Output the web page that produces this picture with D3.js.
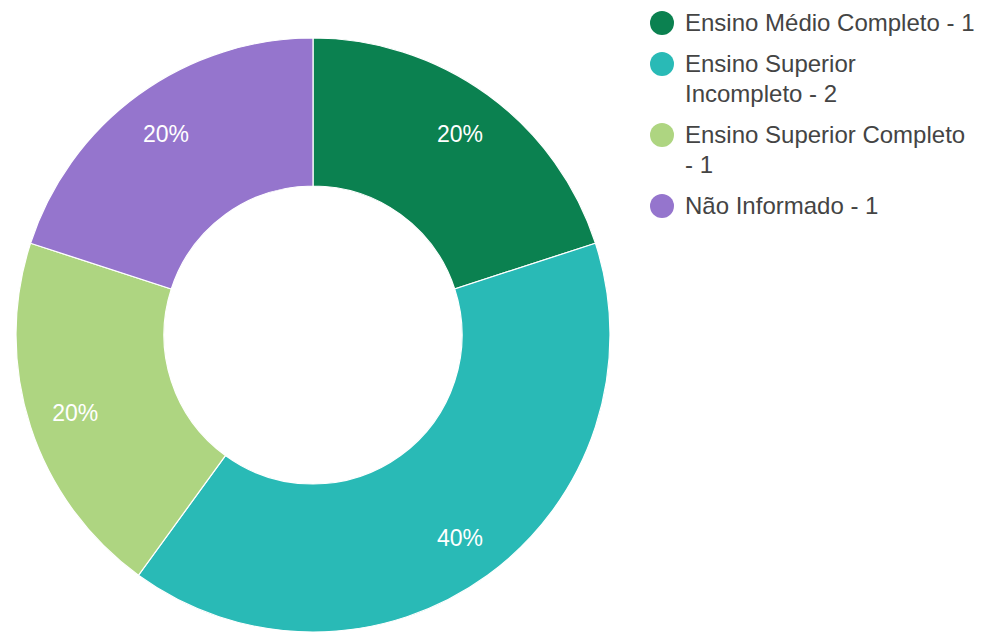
<!DOCTYPE html>
<html>
<head>
<meta charset="utf-8">
<script src="https://cdn.jsdelivr.net/npm/d3@7"></script>
<style>
  html, body { margin: 0; padding: 0; background: #fff; }
  svg { display: block; font-family: "Liberation Sans", Arial, sans-serif; }
</style>
</head>
<body>
<script>
const categories = ["Ensino Médio Completo", "Ensino Superior Incompleto", "Ensino Superior Completo", "Não Informado"];
const counts = [1, 2, 1, 1];
const colors = ["#0b8150", "#29bab6", "#aed581", "#9575cd"];

const W = 981, H = 632;
const cx = 313, cy = 335, outerR = 297, innerR = 149;

let svg = d3.select("body").append("svg").attr("width", W).attr("height", H);

let data = categories.map((c, i) => ({ name: c, value: counts[i], color: colors[i] }));
let total = d3.sum(counts);

let pie = d3.pie().value(d => d.value).sort(null);
let arc = d3.arc().innerRadius(innerR).outerRadius(outerR);
let labelArc = d3.arc().innerRadius(250).outerRadius(250);

// slices
let g = svg.append("g").attr("transform", `translate(${cx},${cy})`);
let arcs = pie(data);
g.selectAll("path").data(arcs).enter()
  .append("path")
  .attr("d", arc)
  .attr("fill", d => d.data.color)
  .attr("stroke", "#fff")
  .attr("stroke-width", 1.2);

// percent labels
g.selectAll("text").data(arcs).enter()
  .append("text")
  .attr("transform", d => `translate(${labelArc.centroid(d)})`)
  .attr("text-anchor", "middle")
  .attr("dy", "0.4em")
  .attr("fill", "#fff")
  .style("font-size", "23px")
  .text(d => Math.round(d.data.value / total * 100) + "%");

// legend
let legend = svg.append("g").attr("class", "legend");
let lx = 662, tx = 685, maxW = 292, lineH = 30, gap = 11;
let y = 23;
data.forEach(d => {
  let item = legend.append("g");
  item.append("circle").attr("cx", lx).attr("cy", y).attr("r", 12).attr("fill", d.color);
  let t = item.append("text")
    .attr("x", tx).attr("y", y).attr("dy", "0.35em")
    .attr("fill", "#444").style("font-size", "24px");
  // simple word wrap
  let words = (d.name + " - " + d.value).split(" ");
  let line = [], lines = [];
  let probe = svg.append("text").style("font-size", "24px");
  words.forEach(w => {
    let test = line.concat(w).join(" ");
    probe.text(test);
    if (probe.node().getComputedTextLength() > maxW && line.length) {
      lines.push(line.join(" "));
      line = [w];
    } else line.push(w);
  });
  lines.push(line.join(" "));
  probe.remove();
  lines.forEach((l, i) => {
    t.append("tspan").attr("x", tx).attr("y", y + i * lineH).attr("dy", "0.35em").text(l);
  });
  y += lines.length * lineH + gap;
});
</script>
</body>
</html>
